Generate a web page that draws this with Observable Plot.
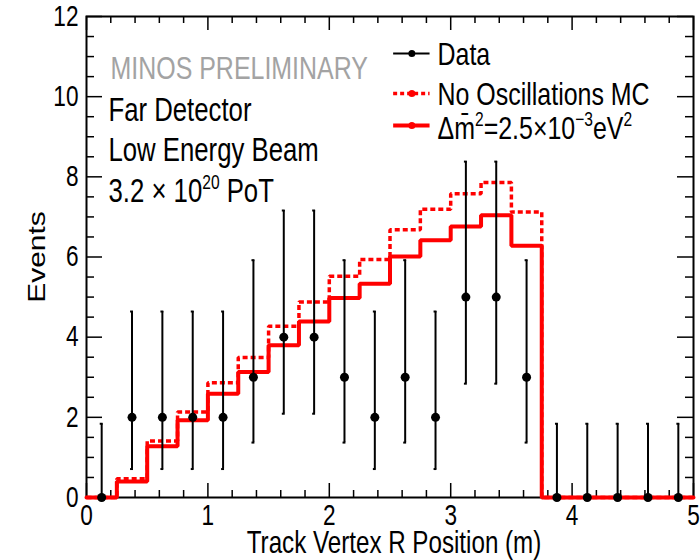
<!DOCTYPE html>
<html><head><meta charset="utf-8">
<script src="https://cdn.jsdelivr.net/npm/d3@7"></script>
<script src="https://cdn.jsdelivr.net/npm/@observablehq/plot@0.6"></script>
<style>body{margin:0;background:#fff}</style>
</head><body><div id="chart"></div>
<script>
// ---- data ----
const binEdges = [0,0.25,0.5,0.75,1,1.25,1.5,1.75,2,2.25,2.5,2.75,3,3.25,3.5,3.75,4,4.25,4.5,4.75,5];
const noOscMC = [0,0.47,1.41,2.13,2.86,3.49,4.27,4.88,5.52,5.94,6.68,7.19,7.58,7.86,7.12,0,0,0,0,0];
const oscMC   = [0,0.40,1.28,1.93,2.59,3.13,3.80,4.39,4.98,5.33,6.01,6.42,6.76,7.04,6.28,0,0,0,0,0];
const dataR = [0.125,0.375,0.625,0.875,1.125,1.375,1.625,1.875,2.125,2.375,2.625,2.875,3.125,3.375,3.625,3.875,4.125,4.375,4.625,4.875];
const dataEvents = [0,2,2,2,2,3,4,4,3,2,3,2,5,5,3,0,0,0,0,0];
const errLow  = [0,0.71,0.71,0.71,0.71,1.37,2.09,2.09,1.37,0.71,1.37,0.71,2.84,2.84,1.37,0,0,0,0,0];
const errHigh = [1.84,4.64,4.64,4.64,4.64,5.92,7.16,7.16,5.92,4.64,5.92,4.64,8.38,8.38,5.92,1.84,1.84,1.84,1.84,1.84];
const xTicks = [0,1,2,3,4,5];
const xTickLabels = ["0","1","2","3","4","5"];
const yTicks = [0,2,4,6,8,10,12];
const yTickLabels = ["0","2","4","6","8","10","12"];
const legendLabels = ["Data","No Oscillations MC","Δm²=2.5×10⁻³eV²"];
const infoLines = ["Far Detector","Low Energy Beam","3.2 × 10^20 PoT"];

// ---- layout ----
const W = 700, H = 560, mt = 16, mb = 63, ml = 86, mr = 7;
const ph = H - mt - mb, pw = W - ml - mr;
const xMinor = d3.range(0, 5.001, 0.2).filter(v => Math.abs(v - Math.round(v)) > 1e-6);
const yMinor = d3.range(0, 12.001, 0.5).filter(v => Math.abs(v / 2 - Math.round(v / 2)) > 1e-6);

const stepRows = vals => binEdges.map((x, i) => ({x, y: vals[Math.min(i, vals.length - 1)]}));
const pts = dataR.map((x, i) => ({x, y: dataEvents[i], lo: errLow[i], hi: errHigh[i]}));

const RED = "#ff0000";
const tk = {stroke: "black", strokeWidth: 1.5};
const dash = {strokeDasharray: "5,3", strokeLinecap: "butt", strokeLinejoin: "miter"};

const svg = Plot.plot({
  width: W, height: H,
  marginTop: mt, marginBottom: mb, marginLeft: ml, marginRight: mr,
  style: {fontFamily: "'Liberation Sans', Arial, Helvetica, sans-serif", background: "white", color: "black"},
  x: {domain: [0, 5]},
  y: {domain: [0, 12]},
  marks: [
    Plot.ruleX(xTicks, {...tk, insetTop: ph - 14}),
    Plot.ruleX(xTicks, {...tk, insetBottom: ph - 14}),
    Plot.ruleX(xMinor, {...tk, insetTop: ph - 7}),
    Plot.ruleX(xMinor, {...tk, insetBottom: ph - 7}),
    Plot.ruleY(yTicks, {...tk, insetRight: pw - 16}),
    Plot.ruleY(yTicks, {...tk, insetLeft: pw - 16}),
    Plot.ruleY(yMinor, {...tk, insetRight: pw - 8}),
    Plot.ruleY(yMinor, {...tk, insetLeft: pw - 8}),
    Plot.frame({stroke: "black", strokeWidth: 2}),
    Plot.axisX(xTicks, {tickSize: 0, tickPadding: 7, fontSize: 29, label: null,
      tickFormat: d => xTickLabels[xTicks.indexOf(d)]}),
    Plot.axisY(yTicks, {tickSize: 0, tickPadding: 8, fontSize: 29, label: null,
      tickFormat: d => yTickLabels[yTicks.indexOf(d)]}),
    Plot.text(["Events"], {frameAnchor: "left", dx: -51, rotate: -90, fontSize: 30, textAnchor: "middle", lineAnchor: "middle"}),
    Plot.text(["Track Vertex R Position (m)"], {frameAnchor: "bottom", dx: 4, dy: 55, fontSize: 31, textAnchor: "middle", lineAnchor: "bottom"}),
    // histograms
    Plot.line(stepRows(noOscMC), {x: "x", y: "y", curve: "step-after", stroke: RED, strokeWidth: 3.5, ...dash}),
    Plot.line(stepRows(oscMC), {x: "x", y: "y", curve: "step-after", stroke: RED, strokeWidth: 4, strokeLinejoin: "miter"}),
    // data with errors
    Plot.ruleX(pts, {x: "x", y1: "lo", y2: "hi", stroke: "black", strokeWidth: 2}),
    Plot.ruleY(pts, {y: "hi", x1: d => d.x - 0.012, x2: d => d.x + 0.012, stroke: "black", strokeWidth: 2}),
    Plot.ruleY(pts.filter(d => d.lo > 0), {y: "lo", x1: d => d.x - 0.012, x2: d => d.x + 0.012, stroke: "black", strokeWidth: 2}),
    Plot.dot(pts, {x: "x", y: "y", r: 4.5, fill: "black"}),
    // annotations
    Plot.text(["MINOS PRELIMINARY"], {frameAnchor: "top-left", dx: 24, dy: 62, fontSize: 32, fill: "#a3a3a3", textAnchor: "start", lineAnchor: "bottom"}),
    Plot.text([infoLines[0]], {frameAnchor: "top-left", dx: 22, dy: 104, fontSize: 33, textAnchor: "start", lineAnchor: "bottom"}),
    Plot.text([infoLines[1]], {frameAnchor: "top-left", dx: 22, dy: 144, fontSize: 33, textAnchor: "start", lineAnchor: "bottom"}),
    Plot.text([infoLines[2]], {frameAnchor: "top-left", dx: 22, dy: 185, fontSize: 33, textAnchor: "start", lineAnchor: "bottom"}),
    // legend
    Plot.ruleY([11.08], {x1: 2.53, x2: 2.83, stroke: "black", strokeWidth: 2}),
    Plot.dot([[2.68, 11.08]], {x: d => d[0], y: d => d[1], r: 3.5, fill: "black"}),
    Plot.ruleY([10.08], {x1: 2.53, x2: 2.83, stroke: RED, strokeWidth: 3.5, strokeDasharray: "4,3", strokeLinecap: "butt"}),
    Plot.dot([[2.68, 10.08]], {x: d => d[0], y: d => d[1], r: 3.5, fill: RED}),
    Plot.ruleY([9.28], {x1: 2.53, x2: 2.83, stroke: RED, strokeWidth: 4}),
    Plot.dot([[2.68, 9.28]], {x: d => d[0], y: d => d[1], r: 3.5, fill: RED}),
    Plot.text([legendLabels[0]], {frameAnchor: "top-left", dx: 351, dy: 48, fontSize: 32, textAnchor: "start", lineAnchor: "bottom"}),
    Plot.text([legendLabels[1]], {frameAnchor: "top-left", dx: 351, dy: 88, fontSize: 32, textAnchor: "start", lineAnchor: "bottom"}),
    Plot.text([legendLabels[2]], {frameAnchor: "top-left", dx: 351, dy: 122, fontSize: 32, textAnchor: "start", lineAnchor: "bottom"})
  ]
});
document.getElementById("chart").append(svg);

// rich text (superscripts, macron)
const NS = "http://www.w3.org/2000/svg";
function rich(key, parts, base) {
  svg.querySelectorAll("text").forEach(t => {
    if (t.textContent !== key) return;
    t.textContent = "";
    t.setAttribute("style", "white-space:pre");
    let shift = 0;
    for (const p of parts) {
      const s = document.createElementNS(NS, "tspan");
      const target = p.sup ? -Math.round(base * 0.4) : 0;
      if (target !== shift) s.setAttribute("dy", target - shift);
      shift = target;
      if (p.sup) s.setAttribute("font-size", Math.round(base * 0.62));
      s.textContent = p.t;
      t.appendChild(s);
    }
  });
}
rich(infoLines[2], [{t: "3.2 × 10"}, {t: "20", sup: true}, {t: " PoT"}], 33);
rich(legendLabels[2], [{t: "Δm\u0304"}, {t: "2", sup: true}, {t: "=2.5×10"}, {t: "−3", sup: true}, {t: "eV"}, {t: "2", sup: true}], 32);

// horizontal condensing of all text (reference glyphs are narrow)
const K = 0.78;
svg.querySelectorAll("text").forEach(t => {
  const c = t.transform.baseVal.consolidate();
  const m = c ? c.matrix : {a: 1, b: 0, c: 0, d: 1, e: 0, f: 0};
  let x = 0, y = 0;
  try { if (t.x.baseVal.numberOfItems) x = t.x.baseVal.getItem(0).value; } catch (e) {}
  try { if (t.y.baseVal.numberOfItems) y = t.y.baseVal.getItem(0).value; } catch (e) {}
  const px = m.a * x + m.c * y + m.e;
  const g = document.createElementNS(NS, "g");
  g.setAttribute("transform", `translate(${px},0) scale(${K},1) translate(${-px},0)`);
  t.parentNode.insertBefore(g, t);
  g.appendChild(t);
});
</script>
</body></html>
